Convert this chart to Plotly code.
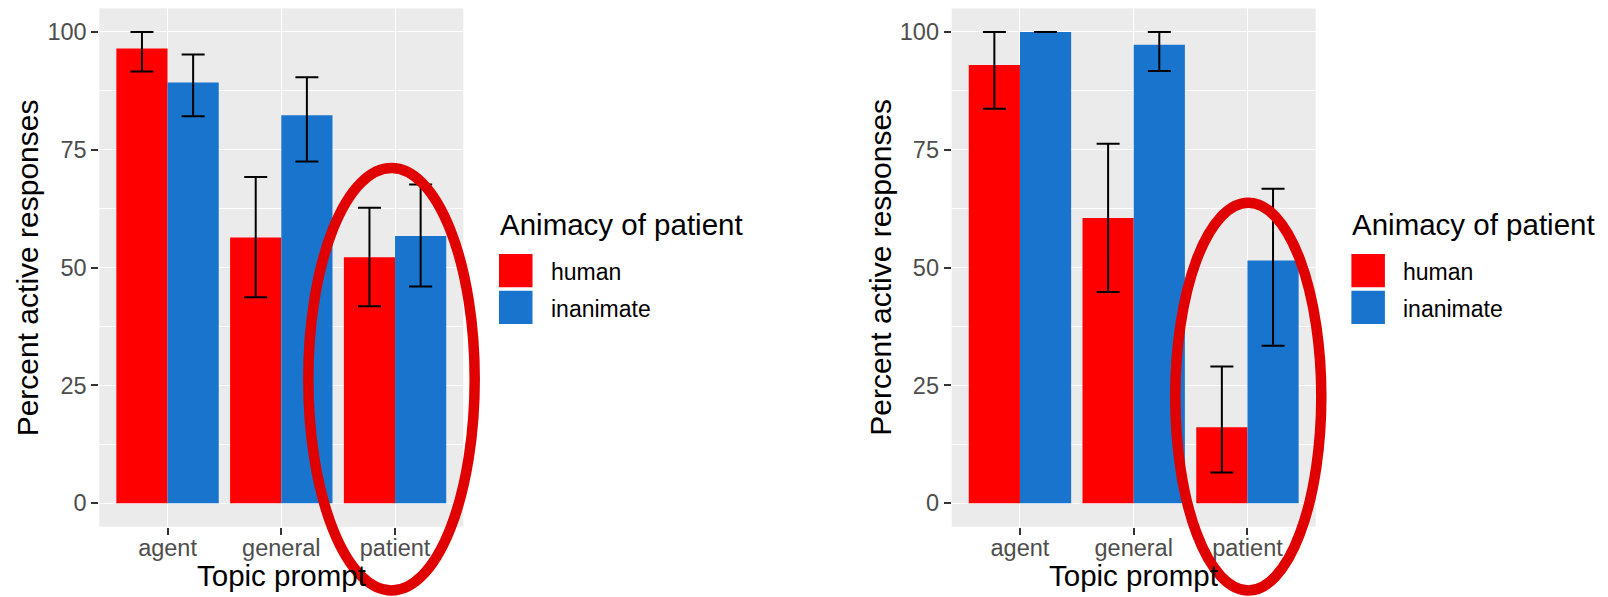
import plotly.graph_objects as go

# ---------------- data ----------------
topics = ["agent", "general", "patient"]
animacy = ["human", "inanimate"]

# left panel
left_human = [96.5, 56.4, 52.2]
left_human_lo = [91.6, 43.7, 41.8]
left_human_hi = [100.0, 69.2, 62.7]
left_inan = [89.3, 82.3, 56.7]
left_inan_lo = [82.1, 72.5, 46.0]
left_inan_hi = [95.2, 90.4, 67.6]

# right panel
right_human = [93.0, 60.5, 16.1]
right_human_lo = [83.7, 44.8, 6.5]
right_human_hi = [100.0, 76.3, 29.0]
right_inan = [100.0, 97.3, 51.5]
right_inan_lo = [100.0, 91.7, 33.4]
right_inan_hi = [100.0, 100.0, 66.7]

x_title = "Topic prompt"
y_title = "Percent active responses"
legend_title = "Animacy of patient"

colors = {"human": "#FF0000", "inanimate": "#1874CD"}

# page body has an 8px margin; figure is sized to fill the rest of the window
OFF = 8
W, H = 1608 - OFF, 597 - OFF
FONT = "Liberation Sans, Arial, Helvetica, sans-serif"


def px(x):
    return (x - OFF) / W


def py(y):
    return 1 - (y - OFF) / H


panels = [
    dict(xa="x", ya="y", left=99.3, right=463.3,
         series=[(left_human, left_human_lo, left_human_hi),
                 (left_inan, left_inan_lo, left_inan_hi)]),
    dict(xa="x2", ya="y2", left=951.7, right=1315.7,
         series=[(right_human, right_human_lo, right_human_hi),
                 (right_inan, right_inan_lo, right_inan_hi)]),
]
top_px, bot_px = 8.4, 526.7

fig = go.Figure()
for p in panels:
    for name, (vals, lo, hi) in zip(animacy, p["series"]):
        fig.add_trace(go.Bar(
            x=topics, y=vals, name=name, xaxis=p["xa"], yaxis=p["ya"],
            marker=dict(color=colors[name], line=dict(width=0)),
            error_y=dict(type="data", symmetric=False,
                         array=[h - v for h, v in zip(hi, vals)],
                         arrayminus=[v - l for v, l in zip(vals, lo)],
                         color="black", thickness=2, width=11.5),
            showlegend=False,
        ))

TICKFONT = dict(size=23.5, color="#4D4D4D", family=FONT)
axis_common_x = dict(
    type="category", range=[-0.6, 2.6], showgrid=True, gridcolor="white",
    gridwidth=1.4, ticks="outside", ticklen=7, tickwidth=1.5,
    tickcolor="#333333", tickfont=TICKFONT, automargin=False,
    ticklabelstandoff=-7,
    zeroline=False, showline=False, fixedrange=True,
)
axis_common_y = dict(
    range=[-5, 105], tickvals=[0, 25, 50, 75, 100], showgrid=True,
    gridcolor="white", gridwidth=1.4, ticks="outside", ticklen=7,
    tickwidth=1.5, tickcolor="#333333", tickfont=TICKFONT, automargin=False,
    zeroline=False, showline=False,
    minor=dict(tickvals=[12.5, 37.5, 62.5, 87.5], showgrid=True,
               gridcolor="white", gridwidth=0.7, ticks=""),
)

fig.update_layout(
    width=W, height=H,
    margin=dict(l=0, r=0, t=0, b=0, pad=0, autoexpand=False),
    paper_bgcolor="white", plot_bgcolor="#EBEBEB",
    barmode="group", bargap=0.1, bargroupgap=0,
    font=dict(family=FONT, color="black"),
    xaxis=dict(domain=[px(99.3), px(463.3)], anchor="y", **axis_common_x),
    yaxis=dict(domain=[py(bot_px), py(top_px)], anchor="x", **axis_common_y),
    xaxis2=dict(domain=[px(951.7), px(1315.7)], anchor="y2", **axis_common_x),
    yaxis2=dict(domain=[py(bot_px), py(top_px)], anchor="x2", **axis_common_y),
    showlegend=False,
)

annotations = []
shapes = []
TSIZE = 29.5
for i, p in enumerate(panels):
    cx = (p["left"] + p["right"]) / 2
    # x-axis title
    annotations.append(dict(text=x_title, x=px(cx), y=py(575.5), xref="paper",
                            yref="paper", xanchor="center", yanchor="middle",
                            showarrow=False, font=dict(size=TSIZE, color="black")))
    # y-axis title
    annotations.append(dict(text=y_title, x=px(p["left"] - 71.5), y=py((top_px + bot_px) / 2),
                            xref="paper", yref="paper", xanchor="center",
                            yanchor="middle", textangle=-90, showarrow=False,
                            font=dict(size=30, color="black")))
    # legend
    lx = p["right"] + 35.7
    annotations.append(dict(text=legend_title, x=px(lx - 1), y=py(224), xref="paper",
                            yref="paper", xanchor="left", yanchor="middle",
                            showarrow=False, font=dict(size=TSIZE, color="black")))
    key_tops = [254, 290.7]
    for name, kt in zip(animacy, key_tops):
        shapes.append(dict(type="rect", xref="paper", yref="paper",
                           x0=px(lx), x1=px(lx + 33.5), y0=py(kt), y1=py(kt + 33.3),
                           fillcolor=colors[name], line=dict(width=0), layer="above"))
        annotations.append(dict(text=name, x=px(lx + 49.5), y=py(kt + 18), xref="paper",
                                yref="paper", xanchor="left", yanchor="middle",
                                showarrow=False, font=dict(size=23, color="black")))

# red highlight ellipses around the "patient" group
ellipses = [(308.3, 474.7, 168.0, 590.5), (1175.3, 1321.3, 202.7, 590.5)]
for x0, x1, y0, y1 in ellipses:
    shapes.append(dict(type="circle", xref="paper", yref="paper",
                       x0=px(x0), x1=px(x1), y0=py(y1), y1=py(y0),
                       line=dict(color="#E00000", width=10.5), layer="above"))

fig.update_layout(annotations=annotations, shapes=shapes)
fig.write_html("out.html")
